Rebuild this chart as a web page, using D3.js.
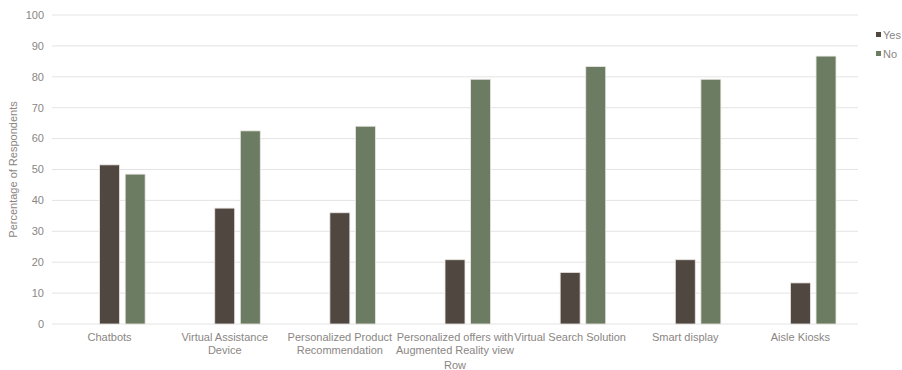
<!DOCTYPE html>
<html>
<head>
<meta charset="utf-8">
<script src="https://cdn.jsdelivr.net/npm/d3@7"></script>
<style>
  body { margin: 0; background: #fff; }
  text { font-family: "Liberation Sans", Arial, sans-serif; }
</style>
</head>
<body>
<div id="chart"></div>
<script>
// Dati
const categories = [
    ["Chatbots"],
    ["Virtual Assistance", "Device"],
    ["Personalized Product", "Recommendation"],
    ["Personalized offers with", "Augmented Reality view"],
    ["Virtual Search Solution"],
    ["Smart display"],
    ["Aisle Kiosks"]
];
const yesValues = [51.5, 37.5, 36, 20.8, 16.7, 20.8, 13.3];
const noValues = [48.5, 62.5, 64, 79.2, 83.3, 79.2, 86.7];
const yTicks = [0, 10, 20, 30, 40, 50, 60, 70, 80, 90, 100];
const seriesNames = ["Yes", "No"];
const seriesColors = ["#504741", "#6c7c63"];

const width = 902;
const height = 370;
const margin = { top: 15, right: 44, bottom: 46, left: 52 };

const svg = d3.select("#chart")
    .append("svg")
    .attr("width", width)
    .attr("height", height);

const x = d3.scaleBand()
    .domain(d3.range(categories.length))
    .range([margin.left, width - margin.right]);

// tre posizioni per gruppo, la prima vuota (come nell'originale)
const slot = d3.scaleBand()
    .domain(["empty", "Yes", "No"])
    .range([0, x.bandwidth()])
    .paddingInner(0.22)
    .paddingOuter(0.86);

const y = d3.scaleLinear()
    .domain([0, 100])
    .range([height - margin.bottom, margin.top]);

// Griglia
svg.append("g")
    .selectAll("line")
    .data(yTicks)
    .join("line")
    .attr("x1", margin.left)
    .attr("x2", width - margin.right)
    .attr("y1", d => y(d))
    .attr("y2", d => y(d))
    .attr("stroke", "#e4e4e4")
    .attr("stroke-width", 1);

// Etichette asse Y
svg.append("g")
    .selectAll("text")
    .data(yTicks)
    .join("text")
    .attr("x", margin.left - 8)
    .attr("y", d => y(d))
    .attr("dy", "0.35em")
    .attr("text-anchor", "end")
    .attr("font-size", "11px")
    .attr("fill", "#8a8684")
    .text(d => d);

// Barre
const series = [yesValues, noValues];
series.forEach((vals, s) => {
    svg.append("g")
        .selectAll("rect")
        .data(vals)
        .join("rect")
        .attr("x", (d, i) => x(i) + slot(seriesNames[s]))
        .attr("y", d => y(d))
        .attr("width", slot.bandwidth())
        .attr("height", d => y(0) - y(d))
        .attr("fill", seriesColors[s])
        .attr("stroke", "#ebe7e3")
        .attr("stroke-width", 0.8);
});

// Etichette categorie
const labels = svg.append("g")
    .selectAll("text")
    .data(categories)
    .join("text")
    .attr("x", (d, i) => x(i) + x.bandwidth() / 2)
    .attr("y", height - margin.bottom + 17)
    .attr("text-anchor", "middle")
    .attr("font-size", "11px")
    .attr("fill", "#8a8684");

labels.selectAll("tspan")
    .data(d => d)
    .join("tspan")
    .attr("x", function () { return d3.select(this.parentNode).attr("x"); })
    .attr("dy", (d, i) => i === 0 ? 0 : "1.15em")
    .text(d => d);

// Titoli assi
svg.append("text")
    .attr("x", (margin.left + width - margin.right) / 2)
    .attr("y", height - 1)
    .attr("text-anchor", "middle")
    .attr("font-size", "11px")
    .attr("fill", "#8a8684")
    .text("Row");

svg.append("text")
    .attr("transform", `translate(17, ${y(50)}) rotate(-90)`)
    .attr("text-anchor", "middle")
    .attr("font-size", "11px")
    .attr("fill", "#8a8684")
    .text("Percentage of Respondents");

// Legenda
const legend = svg.append("g")
    .selectAll("g")
    .data(seriesNames)
    .join("g")
    .attr("transform", (d, i) => `translate(876, ${35 + i * 19})`);

legend.append("rect")
    .attr("x", 0)
    .attr("y", -3)
    .attr("width", 5)
    .attr("height", 5)
    .attr("fill", (d, i) => seriesColors[i]);

legend.append("text")
    .attr("x", 7)
    .attr("y", 0)
    .attr("dy", "0.35em")
    .attr("font-size", "11px")
    .attr("fill", "#8a8684")
    .text(d => d);
</script>
</body>
</html>
